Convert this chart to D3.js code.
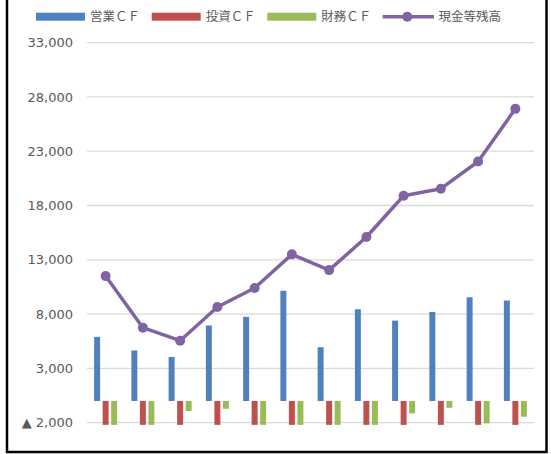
<!DOCTYPE html>
<html><head><meta charset="utf-8">
<script src="https://cdn.jsdelivr.net/npm/d3@7"></script>
<style>body{margin:0;background:#fff}svg{display:block}</style>
</head><body>
<script>
const categories = ["1","2","3","4","5","6","7","8","9","10","11","12"];
const seriesNames = ["営業ＣＦ","投資ＣＦ","財務ＣＦ"];
const lineName = "現金等残高";
const operatingCF = [5900,4650,4050,6950,7750,10150,4950,8450,7400,8200,9550,9250];
const investingCF = [-2200,-2200,-2200,-2200,-2200,-2200,-2200,-2200,-2200,-2200,-2200,-2200];
const financingCF = [-2200,-2200,-930,-720,-2200,-2200,-2200,-2200,-1140,-630,-2060,-1450];
const cashBalance = [11500,6750,5550,8650,10400,13500,12050,15100,18900,19550,22050,26900];
const yTicks = [-2000,3000,8000,13000,18000,23000,28000,33000];
const colors = ["#4F81BD","#C0504D","#9BBB59"];
const lineColor = "#8064A2";

const W=551,H=454;
const svg=d3.select("body").append("svg").attr("width",W).attr("height",H);
svg.append("rect").attr("width",W).attr("height",H).attr("fill","#fff");

const x=d3.scaleBand().domain(categories).range([87,534]);
const y=d3.scaleLinear().domain([-2000,33000]).range([422.7,42.6]);
const inner=d3.scaleBand().domain(seriesNames).range([-11.5,11.5]).paddingInner(0.3);

const fmt=v=> v<0 ? "▲ "+d3.format(",")(-v) : d3.format(",")(v);
const yAxis=d3.axisLeft(y).tickValues(yTicks).tickFormat(fmt).tickSize(0).tickPadding(14);
const ag=svg.append("g").attr("transform","translate(87,0)").call(yAxis);
ag.select(".domain").remove();
ag.selectAll("text").attr("fill","#595959").style("font-family","'DejaVu Sans',Verdana,sans-serif").style("font-size","13px");

svg.append("g").selectAll("line").data(yTicks).join("line")
  .attr("x1",87).attr("x2",534).attr("y1",d=>y(d)).attr("y2",d=>y(d))
  .attr("stroke","#d9d9d9").attr("stroke-width",1.3);

const barData=[operatingCF,investingCF,financingCF];
barData.forEach((arr,si)=>{
  svg.append("g").selectAll("rect").data(arr).join("rect")
    .attr("x",(d,i)=>x(categories[i])+x.bandwidth()/2+inner(seriesNames[si]))
    .attr("width",inner.bandwidth())
    .attr("y",d=>Math.min(y(d),y(0)))
    .attr("height",d=>Math.abs(y(d)-y(0)))
    .attr("fill",colors[si]);
});

const cx=i=>x(categories[i])+x.bandwidth()/2;
const line=d3.line().x((d,i)=>cx(i)).y(d=>y(d));
svg.append("path").datum(cashBalance).attr("d",line).attr("fill","none")
  .attr("stroke",lineColor).attr("stroke-width",3.5).attr("stroke-linejoin","round");
svg.append("g").selectAll("circle").data(cashBalance).join("circle")
  .attr("cx",(d,i)=>cx(i)).attr("cy",d=>y(d)).attr("r",5).attr("fill",lineColor);

// legend
const lg=svg.append("g").style("font-family","'Noto Sans CJK JP',sans-serif").style("font-size","12.5px").attr("fill","#595959");
const legendX=[36,151.7,267.3];
seriesNames.forEach((n,i)=>{
  lg.append("rect").attr("x",legendX[i]).attr("y",12.7).attr("width",49).attr("height",8).attr("fill",colors[i]);
  lg.append("text").attr("x",legendX[i]+54).attr("y",16.7).attr("dy","0.36em").text(n);
});
lg.append("line").attr("x1",382.7).attr("x2",434).attr("y1",16.7).attr("y2",16.7).attr("stroke",lineColor).attr("stroke-width",3.5);
lg.append("circle").attr("cx",407.3).attr("cy",16.7).attr("r",5).attr("fill",lineColor);
lg.append("text").attr("x",438.5).attr("y",16.7).attr("dy","0.36em").text(lineName);

// frame
svg.append("rect").attr("x",7).attr("y",-10).attr("width",539.5).attr("height",462)
  .attr("fill","none").attr("stroke","#000").attr("stroke-width",2.5);
</script>
</body></html>
